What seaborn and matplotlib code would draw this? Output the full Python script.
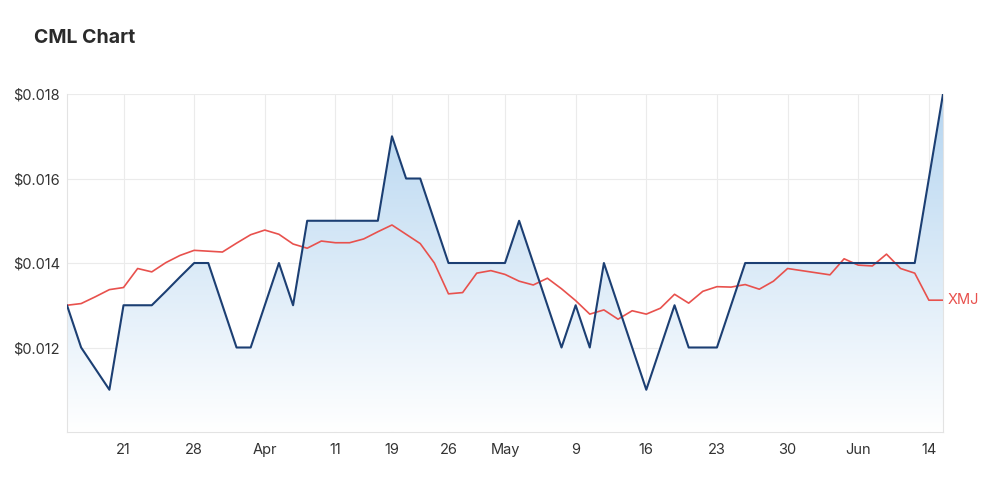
import numpy as np
import pandas as pd
import matplotlib
matplotlib.use("Agg")
import matplotlib.pyplot as plt
from matplotlib.colors import LinearSegmentedColormap
from matplotlib.patches import Polygon
import seaborn as sns

# trading-day index, 15 Mar 2022 .. 15 Jun 2022 (ASX)
DAYS = list(range(63))
CML = [0.0130, 0.0120, 0.0115, 0.0110, 0.0130, 0.0130, 0.0130, 0.01333, 0.01367, 0.0140,
       0.0140, 0.0130, 0.0120, 0.0120, 0.0130, 0.0140, 0.0130, 0.0150, 0.0150, 0.0150,
       0.0150, 0.0150, 0.0150, 0.0170, 0.0160, 0.0160, 0.0150, 0.0140, 0.0140, 0.0140,
       0.0140, 0.0140, 0.0150, 0.0140, 0.0130, 0.0120, 0.0130, 0.0120, 0.0140, 0.0130,
       0.0120, 0.0110, 0.0120, 0.0130, 0.0120, 0.0120, 0.0120, 0.0130, 0.0140, 0.0140,
       0.0140, 0.0140, 0.0140, 0.0140, 0.0140, 0.0140, 0.0140, 0.0140, 0.0140, 0.0140,
       0.0140, 0.0160, 0.0180]
XMJ = [0.01300, 0.01304, 0.01320, 0.01337, 0.01342, 0.01387, 0.01379, 0.01401, 0.01418, 0.01430,
       0.01428, 0.01426, 0.01447, 0.01467, 0.01478, 0.01468, 0.01445, 0.01435, 0.01452, 0.01448,
       0.01448, 0.01457, 0.01474, 0.01490, 0.01468, 0.01446, 0.01400, 0.01327, 0.01330, 0.01376,
       0.01382, 0.01373, 0.01357, 0.01348, 0.01364, 0.01339, 0.01311, 0.01279, 0.01289, 0.01267,
       0.01287, 0.01279, 0.01293, 0.01326, 0.01305, 0.01333, 0.01344, 0.01343, 0.01349, 0.01338,
       0.01357, 0.01387, 0.01382, 0.01377, 0.01372, 0.01410, 0.01395, 0.01393, 0.01421, 0.01387,
       0.01376, 0.01312, 0.01312]
TICK_POS    = [4, 9, 14, 19, 23, 27, 31, 36, 41, 46, 51, 56, 61]
TICK_LABELS = ["21", "28", "Apr", "11", "19", "26", "May", "9", "16", "23", "30", "Jun", "14"]
Y_TICKS     = [0.012, 0.014, 0.016, 0.018]

NAVY = "#1c3f73"
RED  = "#e8514d"
GRID = "#ebebeb"

sns.set_style("white")
plt.rcParams["font.family"] = ["Inter", "DejaVu Sans"]

df = pd.DataFrame({"day": DAYS, "CML": CML, "XMJ": XMJ})

fig = plt.figure(figsize=(10, 4.97), dpi=100)
ax = fig.add_axes([0.067, 0.1308, 0.876, 0.680])
ax.set_xlim(0, len(DAYS) - 1)
ax.set_ylim(0.010, 0.018)

# gradient fill under the CML line
cmap = LinearSegmentedColormap.from_list("fade", ["#ffffff", "#b5d5f0"])
grad = np.linspace(0, 1, 256).reshape(-1, 1)
img = ax.imshow(grad, cmap=cmap, aspect="auto", origin="lower",
                extent=[0, len(DAYS) - 1, 0.010, 0.018], zorder=1)
verts = list(zip(df["day"], df["CML"])) + [(df["day"].iloc[-1], 0.010), (0, 0.010)]
clip = Polygon(verts, closed=True, facecolor="none", edgecolor="none")
ax.add_patch(clip)
img.set_clip_path(clip)

sns.lineplot(data=df, x="day", y="XMJ", ax=ax, color=RED, linewidth=1.2, zorder=3)
sns.lineplot(data=df, x="day", y="CML", ax=ax, color=NAVY, linewidth=1.5, zorder=4)

ax.text(len(DAYS) - 1 + 0.3, XMJ[-1], "XMJ", color=RED, fontsize=10.5,
        va="center", ha="left", clip_on=False)

ax.set_xticks(TICK_POS)
ax.set_xticklabels(TICK_LABELS)
ax.set_yticks(Y_TICKS)
ax.set_yticklabels([f"${v:.3f}" for v in Y_TICKS])
ax.tick_params(axis="both", length=0, labelsize=10.5, colors="#333333")
ax.tick_params(axis="x", pad=8)
ax.tick_params(axis="y", pad=5)
ax.set_xlabel("")
ax.set_ylabel("")
ax.grid(True, color=GRID, linewidth=0.8, zorder=0)
ax.set_axisbelow(True)
ax.spines["top"].set_visible(False)
for side in ["left", "bottom", "right"]:
    ax.spines[side].set_color("#e3e3e3")
    ax.spines[side].set_linewidth(0.8)

fig.text(0.034, 0.923, "CML Chart", fontsize=14, fontweight="bold",
         color="#2b2b2b", va="center", ha="left")

plt.savefig("out.png", dpi=100)
plt.close()
